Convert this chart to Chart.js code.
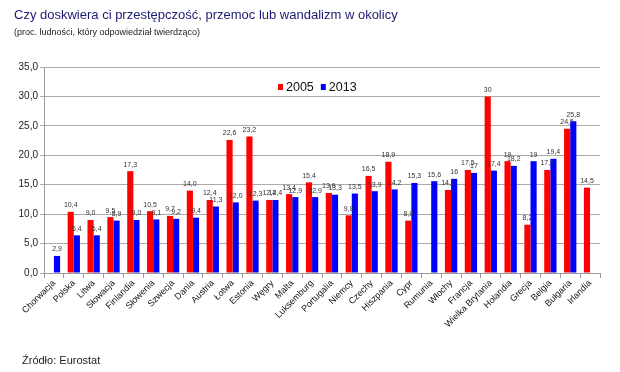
<!DOCTYPE html>
<html>
<head>
<meta charset="utf-8">
<script src="https://cdn.jsdelivr.net/npm/chart.js@4"></script>
<style>
  body { margin: 0; background: #fff; }
  #wrap { position: relative; width: 620px; height: 372px; font-family: "Liberation Sans", Arial, sans-serif; }
  #title { position: absolute; left: 14px; top: 7px; font-size: 13px; color: #1b1b72; white-space: nowrap; }
  #subtitle { position: absolute; left: 14px; top: 27px; font-size: 9px; color: #222; white-space: nowrap; }
  #source { position: absolute; left: 22px; top: 354px; font-size: 11px; color: #222; }
  #chart { position: absolute; left: 0; top: 0; }
</style>
</head>
<body>
<div id="wrap">
  <canvas id="chart" width="620" height="372"></canvas>
  <div id="title">Czy doskwiera ci przestępczość, przemoc lub wandalizm w okolicy</div>
  <div id="subtitle">(proc. ludności, który odpowiedział twierdząco)</div>
  <div id="source">Źródło: Eurostat</div>
</div>
<script>
const countries = ['Chorwacja', 'Polska', 'Litwa', 'Słowacja', 'Finlandia', 'Słowenia', 'Szwecja',
    'Dania', 'Austria', 'Łotwa', 'Estonia', 'Węgry', 'Malta', 'Luksemburg', 'Portugalia', 'Niemcy',
    'Czechy', 'Hiszpania', 'Cypr', 'Rumunia', 'Włochy', 'Francja', 'Wielka Brytania', 'Holandia',
    'Grecja', 'Belgia', 'Bułgaria', 'Irlandia'];

const values2005 = [null, 10.4, 9.0, 9.5, 17.3, 10.5, 9.7, 14.0, 12.4, 22.6, 23.2, 12.4, 13.4, 15.4,
    13.6, 9.8, 16.5, 18.9, 8.9, null, 14.1, 17.5, 30, 19, 8.2, 17.5, 24.5, 14.5];
const values2013 = [2.9, 6.4, 6.4, 8.9, 9.0, 9.1, 9.2, 9.4, 11.3, 12.0, 12.3, 12.4, 12.9, 12.9,
    13.3, 13.5, 13.9, 14.2, 15.3, 15.6, 16, 17, 17.4, 18.2, 19, 19.4, 25.8, null];

// value labels as printed on the original chart
const labels2005 = ['', '10,4', '9,0', '9,5', '17,3', '10,5', '9,7', '14,0', '12,4', '22,6', '23,2',
    '12,4', '13,4', '15,4', '13,6', '9,8', '16,5', '18,9', '8,9', '', '14,1', '17,5', '30', '19',
    '8,2', '17,5', '24,5', '14,5'];
const labels2013 = ['2,9', '6,4', '6,4', '8,9', '9,0', '9,1', '9,2', '9,4', '11,3', '12,0', '12,3',
    '12,4', '12,9', '12,9', '13,3', '13,5', '13,9', '14,2', '15,3', '15,6', '16', '17', '17,4',
    '18,2', '19', '19,4', '25,8', ''];

const yTicks = [0, 5, 10, 15, 20, 25, 30, 35];

/** Draws the value above every bar. */
const valueLabels = {
    id: 'valueLabels',
    afterDatasetsDraw(chart) {
        const ctx = chart.ctx;
        const texts = [labels2005, labels2013];
        ctx.save();
        ctx.font = '7px "Liberation Sans", Arial, sans-serif';
        ctx.fillStyle = '#333';
        ctx.textAlign = 'center';
        ctx.textBaseline = 'bottom';
        chart.data.datasets.forEach((ds, i) => {
            chart.getDatasetMeta(i).data.forEach((bar, j) => {
                if (ds.data[j] == null) return;
                ctx.fillText(texts[i][j], bar.x, bar.y - 3);
            });
        });
        ctx.restore();
    }
};

/** Legend drawn inside the plot area, as in the original. */
const innerLegend = {
    id: 'innerLegend',
    afterDraw(chart) {
        const ctx = chart.ctx;
        const y = 87;
        let x = 278;
        ctx.save();
        ctx.font = '12.5px "Liberation Sans Narrow", "Liberation Sans", Arial, sans-serif';
        ctx.textBaseline = 'middle';
        chart.data.datasets.forEach(ds => {
            ctx.fillStyle = ds.backgroundColor;
            ctx.fillRect(x, y - 3, 5, 6);
            ctx.fillStyle = '#111';
            ctx.fillText(ds.label, x + 8, y + 1);
            x += 8 + ctx.measureText(ds.label).width + 7;
        });
        ctx.restore();
    }
};

const data = {
    labels: countries,
    datasets: [{
        label: '2005',
        data: values2005,
        backgroundColor: '#ff0000',
        categoryPercentage: 0.62,
        barPercentage: 1.0,
    }, {
        label: '2013',
        data: values2013,
        backgroundColor: '#0000ff',
        categoryPercentage: 0.62,
        barPercentage: 1.0,
    }]
};

const config = {
    type: 'bar',
    data: data,
    options: {
        responsive: false,
        animation: false,
        layout: { padding: { top: 67, right: 20, left: 0, bottom: 0 } },
        plugins: {
            legend: { display: false },
            tooltip: { enabled: false },
        },
        scales: {
            x: {
                grid: { drawOnChartArea: false, drawTicks: true, tickLength: 5, color: '#999' },
                border: { color: '#999', width: 1 },
                ticks: {
                    minRotation: 45,
                    maxRotation: 45,
                    autoSkip: false,
                    padding: 0,
                    color: '#111',
                    font: { family: '"Liberation Sans", Arial, sans-serif', size: 9 }
                },
                afterFit(axis) { axis.height = 99; }
            },
            y: {
                min: 0,
                max: 35,
                afterBuildTicks(axis) { axis.ticks = yTicks.map(v => ({ value: v })); },
                grid: { color: '#aaaaaa', lineWidth: 1, tickLength: 4 },
                border: { color: '#999', width: 1 },
                ticks: {
                    padding: 2,
                    color: '#222',
                    callback: v => v.toFixed(1).replace('.', ','),
                    font: { family: '"Liberation Sans", Arial, sans-serif', size: 10 }
                },
                afterFit(axis) { axis.width = 44; }
            }
        }
    },
    plugins: [valueLabels, innerLegend]
};

new Chart(document.getElementById('chart'), config);
</script>
</body>
</html>
